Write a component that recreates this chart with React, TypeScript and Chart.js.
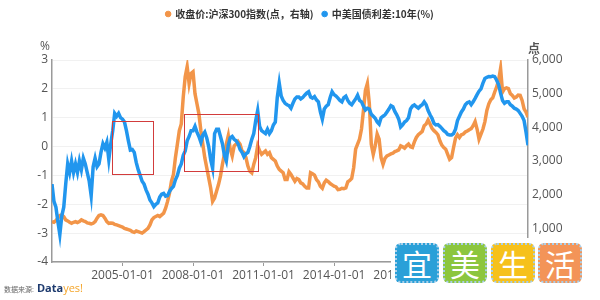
import React, { useEffect, useRef } from 'react';
import { Chart, registerables } from 'chart.js';

Chart.register(...registerables);

// Monthly series, starting January 2002
const START_YEAR = 2002;

// 中美国债利差:10年(%) — left axis
const spread10y: number[] = [
  -1.3, -1.9, -2.1, -2.6, -3.05, -2.4, -2.1, -1.3, -0.6, -0.9, -0.5, -0.9,
  -0.6, -0.9, -0.5, -0.8, -0.4, -0.6, -0.9, -1.2, -1.7, -0.7, -0.4, -0.7,
  -0.6, -0.2, 0.1, -0.05, 0.15, -0.45, 0.1, 0.55, 1.15, 1.05, 1.15, 1.0,
  0.95, 0.85, 0.55, 0.2, -0.12, -0.1, -0.2, -0.55, -0.8, -1.0, -1.2, -1.3,
  -1.5, -1.65, -1.85, -1.95, -2.08, -2.0, -1.95, -1.75, -1.65, -1.62, -1.72, -1.7,
  -1.55, -1.45, -1.38, -1.15, -1.0, -0.75, -0.6, -0.3, -0.15, 0.2, 0.35, 0.55,
  0.55, 0.7, 0.5, 0.35, 0.15, 0.4, 0.5, 0.3, 0.0, -0.45, -0.75, 0.45,
  0.6, 0.6, 0.35, 0.1, -0.3, -0.5, 0.05, 0.3, 0.35, 0.25, 0.2, 0.1,
  -0.1, -0.2, -0.35, -0.25, -0.2, 0.0, 0.25, 0.45, 0.9, 1.25, 0.7, 0.55,
  0.5, 0.45, 0.6, 0.45, 0.55, 0.75, 0.85, 1.7, 2.2, 1.75, 1.6, 1.5,
  1.45, 1.42, 1.33, 1.5, 1.65, 1.72, 1.72, 1.65, 1.7, 1.78, 1.85, 1.9,
  1.72, 1.68, 1.73, 1.62, 1.55, 1.2, 0.95, 1.3, 1.4, 1.45, 1.7, 1.9,
  1.8, 1.75, 1.68, 1.6, 1.55, 1.7, 1.75, 1.6, 1.5, 1.45, 1.55, 1.65,
  1.78, 1.6, 1.55, 1.4, 1.27, 1.33, 1.3, 1.12, 1.05, 0.98, 0.85, 0.78,
  1.0, 1.05, 1.1, 1.2, 1.3, 1.42, 1.38, 1.22, 1.1, 0.95, 0.68, 0.75,
  0.85, 0.9, 1.0, 1.3, 1.4, 1.44, 1.38, 1.33, 1.4, 1.45, 1.55, 1.45,
  1.25, 1.1, 0.98, 0.8, 0.75, 0.76, 0.7, 0.63, 0.55, 0.5, 0.42, 0.4,
  0.4, 0.45, 0.6, 0.9, 1.05, 1.2, 1.3, 1.45, 1.52, 1.55, 1.45, 1.55,
  1.67, 1.8, 1.92, 2.0, 2.2, 2.36, 2.4, 2.43, 2.42, 2.44, 2.42, 2.3,
  2.15, 1.85, 1.6, 1.5, 1.55, 1.55, 1.45, 1.4, 1.33, 1.3, 1.25, 1.15,
  1.05, 0.9, 0.5, 0.05,
];

// 收盘价:沪深300指数 — right axis
const csi300: number[] = [
  1200, 1180, 1230, 1300, 1380, 1400, 1350, 1250, 1220, 1180, 1150, 1180,
  1200, 1170, 1200, 1250, 1220, 1200, 1160, 1150, 1130, 1150, 1200, 1300,
  1380, 1400, 1380, 1300, 1200, 1150, 1160, 1150, 1120, 1100, 1080, 1060,
  1040, 1000, 980, 960, 940, 900, 880, 920, 900, 880, 860, 900,
  950, 1000, 1100, 1250, 1320, 1350, 1380, 1350, 1400, 1450, 1600, 1800,
  2050, 2400, 2600, 3100, 3500, 3900, 4100, 4900, 5500, 5800, 5300, 5600,
  5650, 5000, 4700, 4400, 3900, 3500, 3100, 2800, 2500, 2200, 1800, 1900,
  2100, 2300, 2550, 2900, 3200, 3500, 3750, 3350, 3150, 3450, 3500, 3580,
  3500, 3300, 3250, 3100, 2850, 2700, 2650, 2900, 3100, 3450, 3300, 3200,
  3250, 3300, 3200, 3250, 3100, 3050, 3000, 2850, 2750, 2700, 2650, 2450,
  2450, 2680, 2600, 2500, 2400, 2480, 2450, 2350, 2320, 2250, 2200, 2200,
  2650, 2620, 2580, 2450, 2380, 2250, 2190, 2350, 2430, 2390, 2330, 2290,
  2250, 2230, 2150, 2160, 2190, 2180, 2200, 2380, 2420, 2480, 2800, 3350,
  3500, 3650, 3950, 4500, 5100, 5300, 4700, 3500, 3200, 3450, 3800, 3650,
  3100, 2900, 3080, 3150, 3180, 3210, 3230, 3280, 3300, 3330, 3450, 3420,
  3380, 3450, 3500, 3420, 3400, 3570, 3700, 3780, 3830, 3880, 4050, 4100,
  4220, 4100, 3970, 3900, 3850, 3780, 3600, 3470, 3400, 3350, 3200, 3050,
  3100, 3400, 3680, 3780, 3700, 3780, 3800, 3860, 3890, 3930, 3960, 4050,
  4170, 3950, 3650, 3800, 3950, 4170, 4500, 4700, 4820, 4880, 5050, 5200,
  5400, 5750, 5050, 5150, 5170, 5150, 5000, 4950, 4870, 4900, 4960, 4950,
  4800, 4550, 4450, 4300,
];

const xTickYears = [2005, 2008, 2011, 2014, 2017, 2020];
const leftRange = [-4, 3];
const rightRange = [0, 6000];

// highlighted periods (date range, left-axis value range)
const boxStarts = [2004.56, 2007.61];
const boxEnds = [2006.29, 2010.76];
const boxTops = [0.89, 1.12];
const boxBottoms = [-0.96, -0.84];

const ORANGE = '#F29549';
const BLUE = '#2196EE';
const TICK_COLOR = '#555';
const AXIS_COLOR = '#9a9a9a';

const toPoints = (arr: number[]) => arr.map((v, i) => ({ x: START_YEAR + i / 12, y: v }));

export default function App() {
  const ref = useRef<HTMLCanvasElement | null>(null);

  useEffect(() => {
    if (!ref.current) return;
    const tickFont = { family: '"Open Sans", sans-serif', size: 12 };

    const legendHeightPlugin = {
      id: 'legendHeight',
      beforeInit(chart: any) {
        const legend = chart.legend;
        if (!legend) return;
        const fit = legend.fit;
        legend.fit = function () {
          fit.call(this);
          this.height = 60;
        };
      },
    };

    const extrasPlugin = {
      id: 'extras',
      afterDatasetsDraw(chart: any) {
        const { ctx, scales } = chart;
        const xs = scales.x;
        const yl = scales.yL;
        ctx.save();
        ctx.strokeStyle = '#D23C3C';
        ctx.lineWidth = 1;
        for (let i = 0; i < boxStarts.length; i++) {
          const x0 = xs.getPixelForValue(boxStarts[i]);
          const x1 = xs.getPixelForValue(boxEnds[i]);
          const y0 = yl.getPixelForValue(boxTops[i]);
          const y1 = yl.getPixelForValue(boxBottoms[i]);
          ctx.strokeRect(Math.round(x0) + 0.5, Math.round(y0) + 0.5, Math.round(x1 - x0), Math.round(y1 - y0));
        }
        ctx.restore();
      },
      afterDraw(chart: any) {
        const { ctx, scales, chartArea } = chart;
        ctx.save();
        ctx.fillStyle = TICK_COLOR;
        ctx.textAlign = 'center';
        ctx.textBaseline = 'middle';
        ctx.font = '12px "Open Sans", sans-serif';
        ctx.fillText('%', scales.yL.right - 7, chartArea.top - 13);
        ctx.font = 'bold 12px "Noto Sans CJK SC", sans-serif';
        ctx.fillText('点', scales.yR.left + 6, chartArea.top - 12);
        ctx.restore();
      },
    };

    const baseGenerate = (Chart as any).defaults.plugins.legend.labels.generateLabels;

    const chart = new Chart(ref.current, {
      type: 'line',
      data: {
        datasets: [
          {
            label: '收盘价:沪深300指数(点，右轴)',
            data: toPoints(csi300),
            yAxisID: 'yR',
            borderColor: ORANGE,
            backgroundColor: ORANGE,
            borderWidth: 3.5,
            pointRadius: 0,
            tension: 0,
            order: 2,
          },
          {
            label: '中美国债利差:10年(%)',
            data: toPoints(spread10y),
            yAxisID: 'yL',
            borderColor: BLUE,
            backgroundColor: BLUE,
            borderWidth: 3.5,
            pointRadius: 0,
            tension: 0,
            order: 1,
          },
        ],
      },
      options: {
        responsive: false,
        maintainAspectRatio: false,
        devicePixelRatio: 1,
        animation: false,
        layout: { padding: 0 },
        plugins: {
          tooltip: { enabled: false },
          legend: {
            position: 'top',
            align: 'center',
            labels: {
              usePointStyle: true,
              pointStyle: 'circle',
              boxWidth: 4,
              boxHeight: 4,
              padding: 9,
              color: '#333',
              font: { family: '"Noto Sans CJK SC", sans-serif', size: 10, weight: 'bold' },
              sort: (a: any, b: any) => a.datasetIndex - b.datasetIndex,
              generateLabels: (c: any) =>
                baseGenerate(c).map((l: any) => ({ ...l, lineWidth: 1 })),
            },
          },
        },
        scales: {
          x: {
            type: 'linear',
            min: START_YEAR,
            max: START_YEAR + (spread10y.length - 1) / 12,
            afterBuildTicks: (s: any) => {
              s.ticks = xTickYears.map((v) => ({ value: v }));
            },
            afterFit: (s: any) => {
              s.height = 38;
            },
            ticks: {
              callback: (v: any) => `${v}-01-01`,
              font: tickFont,
              color: TICK_COLOR,
              maxRotation: 0,
              autoSkip: false,
              padding: 2,
            },
            grid: { drawOnChartArea: false, drawTicks: true, tickLength: 4, color: AXIS_COLOR },
            border: { color: AXIS_COLOR, width: 1.5 },
          },
          yL: {
            position: 'left',
            min: leftRange[0],
            max: leftRange[1],
            afterFit: (s: any) => {
              s.width = 52;
            },
            ticks: { stepSize: 1, font: tickFont, color: TICK_COLOR, padding: 4 },
            grid: { color: '#f1f1f1', drawTicks: false },
            border: { color: AXIS_COLOR, width: 1.5 },
          },
          yR: {
            position: 'right',
            min: rightRange[0],
            max: rightRange[1],
            afterFit: (s: any) => {
              s.width = 72;
            },
            ticks: {
              stepSize: 1000,
              font: tickFont,
              color: TICK_COLOR,
              padding: 4,
              callback: (v: any) => (v === 0 ? '' : Number(v).toLocaleString('en-US')),
            },
            grid: { drawOnChartArea: false, drawTicks: false },
            border: { color: AXIS_COLOR, width: 1.5 },
          },
        },
      } as any,
      plugins: [legendHeightPlugin, extrasPlugin],
    });
    return () => chart.destroy();
  }, []);

  const logoBoxes = [
    { ch: '宜', color: '#2AA0D8', left: 4 },
    { ch: '美', color: '#8CC63E', left: 52 },
    { ch: '生', color: '#F6C11B', left: 100 },
    { ch: '活', color: '#F39458', left: 147 },
  ];

  return (
    <div style={{ position: 'fixed', left: 0, top: 0, width: 600, height: 300, background: '#fff', overflow: 'hidden' }}>
      <canvas ref={ref} width={600} height={300} style={{ display: 'block', width: 600, height: 300 }} />
      <div style={{ position: 'absolute', left: 4, top: 280, display: 'flex', alignItems: 'baseline', fontFamily: '"Noto Sans CJK SC", sans-serif' }}>
        <span style={{ fontSize: 7, color: '#666', marginRight: 3 }}>数据来源:</span>
        <span style={{ fontSize: 11, fontWeight: 'bold', fontFamily: '"Open Sans", sans-serif', color: '#1d3a6e' }}>Data</span>
        <span style={{ fontSize: 11, fontFamily: '"Open Sans", sans-serif', color: '#f4a52a' }}>yes!</span>
      </div>
      <div style={{ position: 'absolute', left: 391, top: 238, width: 209, height: 52, background: '#fff' }}>
        {logoBoxes.map((b) => (
          <div
            key={b.ch}
            style={{
              position: 'absolute',
              left: b.left,
              top: 5,
              width: 44,
              height: 40,
              boxSizing: 'border-box',
              background: b.color,
              border: '2px dotted #a9cfe9',
              borderRadius: 6,
              color: '#fff',
              fontFamily: '"Noto Sans CJK SC", sans-serif',
              fontSize: 30,
              lineHeight: '36px',
              textAlign: 'center',
            }}
          >
            {b.ch}
          </div>
        ))}
      </div>
    </div>
  );
}
